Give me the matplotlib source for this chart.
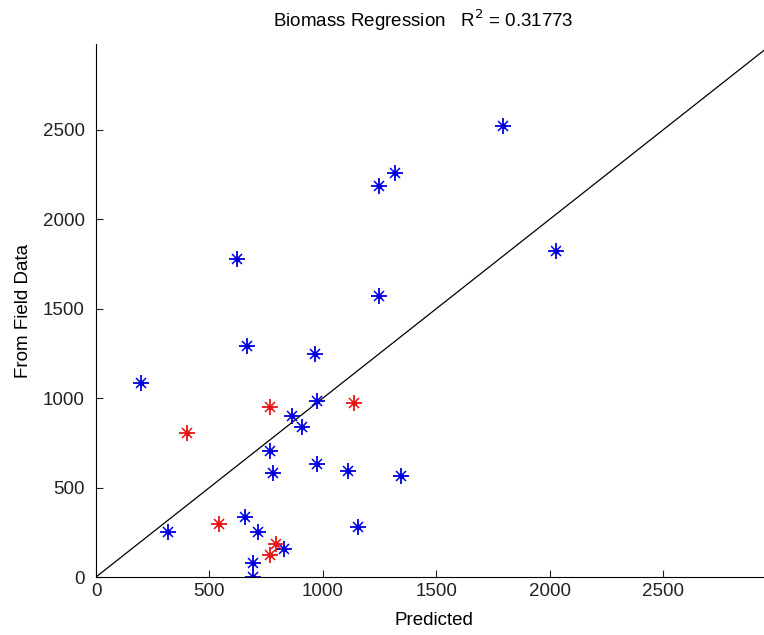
import matplotlib
matplotlib.use('Agg')
import matplotlib.pyplot as plt

plt.rcParams['font.family'] = ['Liberation Sans', 'DejaVu Sans']

# blue points (predicted, field)
blue_x = [199, 318, 658, 715, 830, 693, 693, 865, 909, 975, 768, 781, 975, 1112,
          1346, 1156, 1796, 1320, 1249, 2030, 1249, 622, 666, 966]
blue_y = [1086, 252, 336, 252, 157, 78, 0, 901, 840, 985, 705, 582, 632, 594,
          565, 280, 2520, 2256, 2184, 1825, 1573, 1780, 1293, 1249]
# red points
red_x = [402, 543, 794, 768, 768, 1139]
red_y = [806, 297, 185, 123, 952, 974]

lim = 2980
xticks = [0, 500, 1000, 1500, 2000, 2500]
yticks = [0, 500, 1000, 1500, 2000, 2500]

fig = plt.figure(figsize=(7.64, 6.35), dpi=100)
ax = fig.add_axes([96/764, 58/635, 676/764, 533/635])

ax.plot([0, lim], [0, lim], color='k', lw=0.9)

def stars(x, y, c):
    # matlab-like asterisk: plus + x + dot
    ax.plot(x, y, ls='none', marker='+', ms=11, mew=1.3, color=c)
    ax.plot(x, y, ls='none', marker='x', ms=6.5, mew=1.1, color=c)
    ax.plot(x, y, ls='none', marker='o', ms=3, color=c)

stars(blue_x, blue_y, '#0000e0')
stars(red_x, red_y, '#e81515')

fs = 13.5
ax.set_xlim(0, lim)
ax.set_ylim(0, lim)
ax.set_xticks(xticks)
ax.set_yticks(yticks)
ax.spines['top'].set_visible(False)
ax.spines['right'].set_visible(False)
ax.tick_params(direction='in', length=5, labelsize=fs, colors='#222222')
ax.tick_params(axis='x', pad=4)
ax.tick_params(axis='y', pad=8)
ax.set_xlabel('Predicted', fontsize=fs, labelpad=9)
ax.set_ylabel('From Field Data', fontsize=fs, labelpad=8)
ax.set_title('Biomass Regression   R$^2$ = 0.31773', fontsize=fs, pad=12, x=0.484)

fig.savefig('out.png', dpi=100)
